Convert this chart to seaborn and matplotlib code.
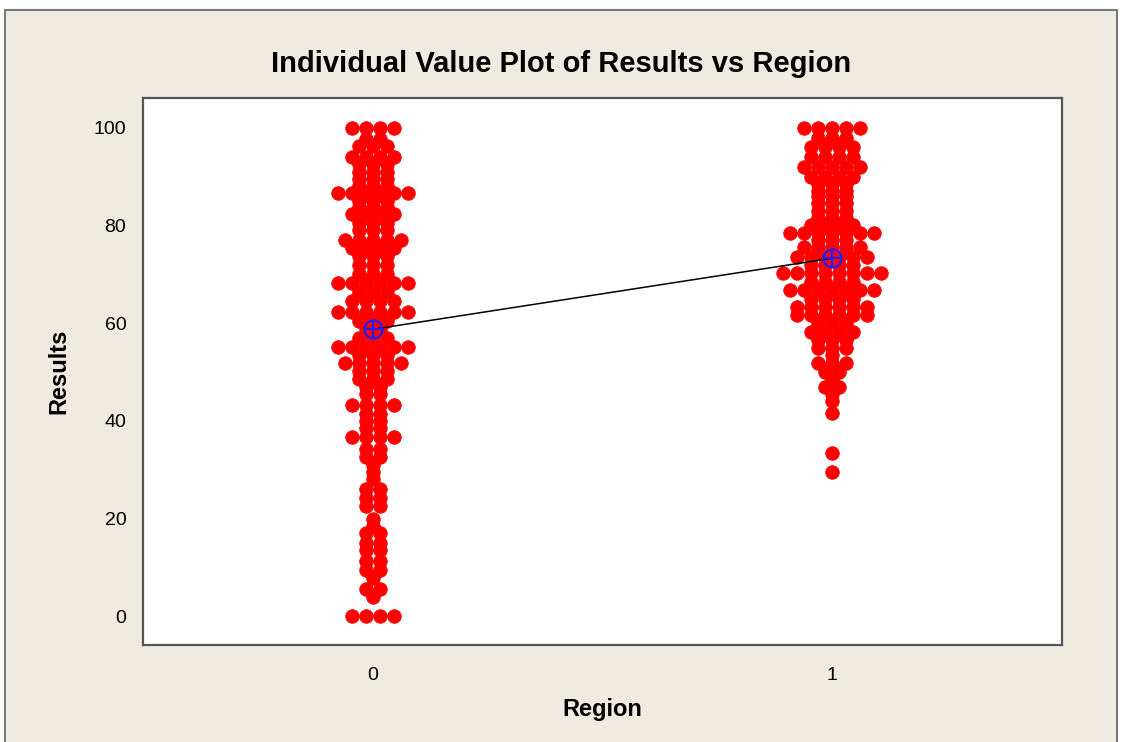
import numpy as np
import pandas as pd
import matplotlib
matplotlib.use("Agg")
import matplotlib.pyplot as plt
import seaborn as sns
from matplotlib.patches import Rectangle

# Distinct score values and how many students share each value, per region
region0_levels = [100, 97.8, 96.3, 94, 92.5, 91, 89.5, 88, 86.7, 85, 83.8, 82.3,
                  80.5, 79, 77, 75.3, 73.7, 72, 70, 68.2, 66.3, 64.5, 62.3,
                  60.5, 58.8, 57, 55.1, 53.4, 51.8, 50.3, 48.6, 47, 45.5, 43.3,
                  41.5, 40, 38.5, 36.7, 34.2, 32.6, 31, 29.5, 28, 26, 24.3,
                  22.5, 20, 18.5, 17, 15, 13.5, 11.2, 9.5, 7.8, 5.5, 4, 0]
region0_counts = [4, 2, 3, 4, 3, 3, 3, 3, 6, 3, 3, 4,
                  3, 3, 5, 4, 3, 3, 3, 6, 3, 4, 6,
                  3, 2, 3, 6, 3, 5, 3, 3, 2, 2, 4,
                  2, 2, 2, 4, 2, 2, 1, 1, 1, 2, 2,
                  2, 1, 1, 2, 2, 2, 2, 2, 1, 2, 1, 4]

region1_levels = [100, 98, 96, 94, 92, 90, 88.5, 87, 86, 84.5, 83, 81.5, 80,
                  78.5, 77, 75.5, 74.5, 73.5, 72, 70.3, 68.5, 66.8, 65, 63.3,
                  61.7, 60, 58.2, 56.5, 55, 53.5, 51.8, 50, 48.5, 47, 45.5, 44,
                  41.6, 33.4, 29.5]
region1_counts = [5, 3, 4, 4, 5, 4, 3, 3, 3, 3, 3, 3, 4,
                  7, 3, 5, 3, 6, 4, 8, 4, 7, 4, 6,
                  6, 3, 4, 3, 3, 1, 3, 2, 1, 2, 1, 1,
                  1, 1, 1]

regions = ["0", "1"]
y_ticks = [0, 20, 40, 60, 80, 100]

# Tied values sit side by side, one dot width apart, centred on the group
DOT_STEP = 0.0305

rows = []
for idx, (levels, counts) in enumerate([(region0_levels, region0_counts),
                                        (region1_levels, region1_counts)]):
    for v, c in zip(levels, counts):
        for k in range(c):
            rows.append((idx, idx + (k - (c - 1) / 2) * DOT_STEP, v))
df = pd.DataFrame(rows, columns=["Region", "xpos", "Results"])

sns.set_style("white")
plt.rcParams["font.family"] = ["Liberation Sans", "DejaVu Sans"]
plt.rcParams["text.color"] = "black"

W, H = 1122, 742
fig = plt.figure(figsize=(W / 100, H / 100), dpi=100, facecolor="white")

# Window panel with a grey border (bottom edge runs off the canvas)
fig.patches.append(Rectangle((5 / W, -0.05), (1117 - 5) / W, 1.05 - 10 / H,
                             transform=fig.transFigure, facecolor="#EFEBE0",
                             edgecolor="#7a7a7a", linewidth=1.5, zorder=-10))

ax = fig.add_axes([143 / W, 1 - 645 / H, (1062 - 143) / W, (645 - 98) / H])
ax.set_facecolor("white")

sns.scatterplot(data=df, x="xpos", y="Results", color="#FF0000", s=95,
                edgecolor="#FF0000", linewidth=0.6, alpha=1, ax=ax, zorder=2,
                legend=False)

# Mean connect line with circle-cross mean symbols
sns.lineplot(data=df, x="Region", y="Results", estimator="mean", errorbar=None,
             color="black", linewidth=1.1, marker="o", markersize=13,
             markerfacecolor="none", markeredgecolor="#2020FF",
             markeredgewidth=1.6, ax=ax, zorder=4, legend=False)
sns.lineplot(data=df, x="Region", y="Results", estimator="mean", errorbar=None,
             color="#2020FF", linestyle="", marker="+", markersize=13,
             markeredgecolor="#2020FF", markeredgewidth=1.6, ax=ax, zorder=5,
             legend=False)

ax.set_xlim(-0.5, 1.5)
ax.set_ylim(-5.9, 106.1)
ax.set_xticks(range(len(regions)))
ax.set_xticklabels(regions)
ax.set_yticks(y_ticks)
ax.set_yticklabels([str(t) for t in y_ticks])

for s in ax.spines.values():
    s.set_color("#555555")
    s.set_linewidth(1.6)

ax.tick_params(axis="both", which="both", direction="out", colors="#555555",
               labelcolor="black", labelsize=14, width=1.2)
ax.tick_params(axis="x", length=9, pad=7)
ax.tick_params(axis="y", length=6, pad=6)

ax.set_xlabel("Region", fontsize=17, fontweight="bold", labelpad=10,
              color="black")
ax.set_ylabel("Results", fontsize=17, fontweight="bold", labelpad=17,
              color="black")

fig.text(561 / W, 1 - 64 / H, "Individual Value Plot of Results vs Region",
         ha="center", va="center", fontsize=21, fontweight="bold",
         color="black")

fig.savefig("out.png", dpi=100, facecolor=fig.get_facecolor())
